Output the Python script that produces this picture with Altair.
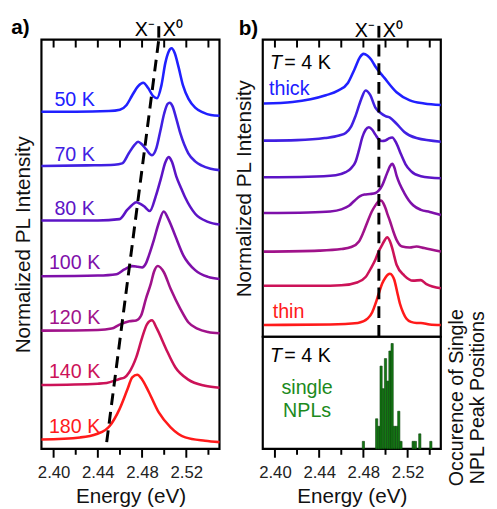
import altair as alt
import pandas as pd

FONT = "Liberation Sans"

# ---------------- panel a: temperature series (normalized PL) ----------------
a_labels = ["50 K", "70 K", "80 K", "100 K", "120 K", "140 K", "180 K"]
a_colors = ["#2020ff", "#4020e2", "#5c14c6", "#7e10aa", "#a0128a", "#cc1258", "#ff1a1a"]

a50_E = [2.389, 2.420, 2.450, 2.460, 2.466, 2.471, 2.4765, 2.481, 2.4855, 2.490, 2.4935, 2.4975,
         2.501, 2.504, 2.5067, 2.5095, 2.513, 2.517, 2.522, 2.528, 2.535, 2.5422, 2.550]
a50_I = [0.06, 0.06, 0.07, 0.09, 0.16, 0.30, 0.44, 0.49, 0.41, 0.29, 0.26, 0.45,
         0.78, 0.95, 1.0, 0.93, 0.72, 0.45, 0.25, 0.12, 0.05, 0.01, 0.0]
a70_E = [2.389, 2.430, 2.455, 2.462, 2.468, 2.473, 2.4764, 2.480, 2.4836, 2.489, 2.493, 2.4965,
         2.500, 2.503, 2.505, 2.5075, 2.511, 2.5147, 2.5218, 2.528, 2.5336, 2.542, 2.550]
a70_I = [0.06, 0.07, 0.08, 0.10, 0.25, 0.37, 0.42, 0.38, 0.31, 0.22, 0.33, 0.58,
         0.84, 0.98, 1.0, 0.95, 0.76, 0.54, 0.25, 0.13, 0.07, 0.02, 0.0]
a80_E = [2.389, 2.440, 2.4596, 2.4667, 2.471, 2.4747, 2.478, 2.4818, 2.487, 2.4924, 2.497, 2.501,
         2.504, 2.507, 2.511, 2.515, 2.519, 2.528, 2.5396, 2.550]
a80_I = [0.06, 0.06, 0.08, 0.22, 0.29, 0.33, 0.31, 0.27, 0.20, 0.42, 0.68, 0.92,
         1.0, 0.93, 0.71, 0.55, 0.40, 0.16, 0.04, 0.0]
a100_E = [2.389, 2.440, 2.4569, 2.464, 2.4711, 2.476, 2.480, 2.4835, 2.4862, 2.4907, 2.4951, 2.4996,
          2.504, 2.510, 2.5173, 2.528, 2.5396, 2.550]
a100_I = [0.04, 0.05, 0.07, 0.14, 0.19, 0.18, 0.17, 0.23, 0.35, 0.58, 0.83, 1.0,
          0.88, 0.64, 0.35, 0.13, 0.03, 0.0]
a120_E = [2.389, 2.440, 2.4524, 2.4596, 2.4684, 2.4747, 2.479, 2.4836, 2.488, 2.4907, 2.4942, 2.4996,
          2.5058, 2.5147, 2.522, 2.530, 2.5396, 2.550]
a120_I = [0.04, 0.05, 0.07, 0.13, 0.18, 0.19, 0.26, 0.52, 0.74, 0.91, 1.0, 0.91,
          0.66, 0.36, 0.16, 0.07, 0.02, 0.0]
a140_E = [2.389, 2.440, 2.448, 2.4596, 2.464, 2.4684, 2.4747, 2.480, 2.4844, 2.4889, 2.4933, 2.5013,
          2.5102, 2.5218, 2.5369, 2.550]
a140_I = [0.04, 0.06, 0.07, 0.13, 0.15, 0.23, 0.45, 0.74, 0.94, 1.0, 0.88, 0.59,
          0.30, 0.12, 0.03, 0.0]
a180_E = [2.389, 2.424, 2.439, 2.4507, 2.4596, 2.4667, 2.4711, 2.4756, 2.480, 2.4862, 2.4951, 2.5058,
          2.5191, 2.5369, 2.550]
a180_I = [0.04, 0.07, 0.12, 0.24, 0.49, 0.78, 0.96, 1.0, 0.93, 0.74, 0.44, 0.22,
          0.07, 0.02, 0.0]

a_E = [a50_E, a70_E, a80_E, a100_E, a120_E, a140_E, a180_E]
a_I = [a50_I, a70_I, a80_I, a100_I, a120_I, a140_I, a180_I]
a_step = 0.807
a_dash_E = [2.448, 2.4951]
a_dash_y = [0.0, 5.97]

# ---------------- panel b: thickness series at T = 4 K ----------------
b_labels = ["s1", "s2", "s3", "s4", "s5", "s6", "s7"]
b_colors = ["#2020ff", "#3e20e0", "#6216c2", "#8a10a2", "#ac107c", "#d0124c", "#ff1a1a"]

b1_E = [2.390, 2.416, 2.446, 2.457, 2.466, 2.472, 2.477, 2.480, 2.4835, 2.487, 2.491, 2.499,
        2.510, 2.522, 2.535, 2.550]
b1_I = [0.03, 0.06, 0.19, 0.28, 0.43, 0.70, 0.94, 1.0, 0.97, 0.89, 0.75, 0.53,
        0.25, 0.09, 0.03, 0.0]
b2_E = [2.390, 2.420, 2.445, 2.458, 2.464, 2.469, 2.473, 2.478, 2.482, 2.486, 2.491, 2.495,
        2.500, 2.504, 2.510, 2.517, 2.528, 2.550]
b2_I = [0.02, 0.03, 0.07, 0.12, 0.17, 0.30, 0.51, 0.83, 1.0, 0.92, 0.66, 0.57,
        0.50, 0.47, 0.35, 0.19, 0.07, 0.0]
b3_E = [2.390, 2.430, 2.455, 2.464, 2.469, 2.473, 2.476, 2.479, 2.482, 2.485, 2.488, 2.491,
        2.494, 2.497, 2.500, 2.503, 2.506, 2.510, 2.514, 2.518, 2.523, 2.532, 2.550]
b3_I = [0.02, 0.03, 0.06, 0.12, 0.20, 0.33, 0.55, 0.80, 0.95, 1.0, 0.95, 0.85,
        0.76, 0.73, 0.74, 0.78, 0.80, 0.68, 0.47, 0.28, 0.14, 0.04, 0.0]
b4_E = [2.390, 2.430, 2.450, 2.460, 2.467, 2.472, 2.477, 2.481, 2.486, 2.491, 2.494, 2.497,
        2.500, 2.502, 2.504, 2.506, 2.508, 2.510, 2.513, 2.517, 2.521, 2.525, 2.532, 2.540, 2.550]
b4_I = [0.04, 0.05, 0.07, 0.11, 0.18, 0.28, 0.37, 0.40, 0.41, 0.43, 0.48, 0.58,
        0.74, 0.85, 0.95, 1.0, 0.93, 0.77, 0.60, 0.43, 0.29, 0.19, 0.10, 0.06, 0.0]
b5_E = [2.390, 2.440, 2.460, 2.469, 2.476, 2.480, 2.484, 2.4875, 2.491, 2.4935, 2.496, 2.498,
        2.500, 2.502, 2.504, 2.507, 2.510, 2.515, 2.522, 2.528, 2.535, 2.550]
b5_I = [0.0, 0.02, 0.05, 0.09, 0.20, 0.38, 0.60, 0.78, 0.91, 0.98, 1.0, 0.95,
        0.85, 0.72, 0.60, 0.40, 0.23, 0.10, 0.08, 0.10, 0.07, 0.0]
b6_E = [2.390, 2.440, 2.460, 2.475, 2.482, 2.487, 2.491, 2.494, 2.497, 2.499, 2.5015, 2.504,
        2.506, 2.508, 2.510, 2.517, 2.525, 2.532, 2.537, 2.550]
b6_I = [0.05, 0.05, 0.06, 0.12, 0.22, 0.40, 0.57, 0.73, 0.85, 0.93, 1.0, 0.92,
        0.79, 0.62, 0.46, 0.25, 0.15, 0.16, 0.08, 0.0]
b7_E = [2.390, 2.450, 2.475, 2.484, 2.488, 2.491, 2.494, 2.497, 2.500, 2.502, 2.504, 2.506,
        2.508, 2.5105, 2.513, 2.516, 2.519, 2.523, 2.528, 2.532, 2.540, 2.550]
b7_I = [0.0, 0.01, 0.04, 0.13, 0.25, 0.42, 0.62, 0.81, 0.93, 0.98, 1.0, 0.97,
        0.88, 0.65, 0.42, 0.24, 0.12, 0.06, 0.04, 0.04, 0.01, 0.0]

b_E = [b1_E, b2_E, b3_E, b4_E, b5_E, b6_E, b7_E]
b_I = [b1_I, b2_I, b3_I, b4_I, b5_I, b6_I, b7_I]
b_step = 0.717
b_dash_E = 2.494

# ---------------- panel b (bottom): single NPL peak-position histogram ----------------
h_E0 = [2.479, 2.491, 2.493, 2.495, 2.497, 2.499, 2.501, 2.503, 2.505, 2.507, 2.509, 2.511,
        2.513, 2.524, 2.526, 2.530, 2.540]
h_count = [1, 4, 3, 11, 8, 12, 9, 13, 14, 3, 3, 5, 1, 1, 1, 2, 1]
h_width = 0.002

tick_vals = [2.40, 2.42, 2.44, 2.46, 2.48, 2.50, 2.52, 2.54]
major_vals = [v for v in tick_vals if round(v * 100) % 4 == 0]
minor_vals = [v for v in tick_vals if round(v * 100) % 4 != 0]

# ---------------- helpers ----------------
def stack(labels, Es, Is, step):
    rows = []
    n = len(labels)
    for k, (lab, E, I) in enumerate(zip(labels, Es, Is)):
        off = (n - 1 - k) * step
        for e, v in zip(E, I):
            rows.append({"E": e, "y": v + off, "series": lab})
    return pd.DataFrame(rows)


xdom = [2.389, 2.55]
xs = alt.Scale(domain=xdom, nice=False, zero=False)
dom_a = [-0.10, 5.97]
dom_b = [-0.23, 5.58]
dom_h = [0, 14.9]
ys_a = alt.Scale(domain=dom_a, nice=False, zero=False)
ys_b = alt.Scale(domain=dom_b, nice=False, zero=False)
ys_h = alt.Scale(domain=dom_h, nice=False, zero=False)

LBL = "round(datum.value*100) % 4 == 0 ? format(datum.value, '.2f') : ''"

bottom_axis = alt.Axis(
    values=tick_vals, labelExpr=LBL,
    ticks=False, domain=False, grid=False,
    labelFont=FONT, labelFontSize=17, labelColor="#222", labelPadding=16,
    labelOverlap=False, labelFlush=False,
    title="Energy (eV)", titleFont=FONT, titleFontSize=21, titleFontWeight="normal",
    titleColor="#111", titlePadding=6,
)
no_x_axis = alt.Axis(labels=False, ticks=False, domain=False, grid=False, title=None)


def yaxis(title):
    return alt.Axis(title=title, labels=False, ticks=False, domain=False, grid=False,
                    titleFont=FONT, titleFontSize=21, titleFontWeight="normal",
                    titleColor="#111", titlePadding=8)


def texts(df, ys, **kw):
    return alt.Chart(df).mark_text(font=FONT, **kw).encode(
        x=alt.X("E:Q", scale=xs, axis=None),
        y=alt.Y("y:Q", scale=ys, axis=None),
        text="t:N",
        color=alt.Color("c:N", scale=None),
    )


def tick_marks(vals, dom, ys, H, p0, p1):
    # axis tick marks at the tick values; tick length given in pixels from the top edge
    span = dom[1] - dom[0]
    y0 = dom[1] - p0 / H * span
    y1 = dom[1] - p1 / H * span
    df = pd.DataFrame({"E": vals, "y": [y0] * len(vals), "y2": [y1] * len(vals)})
    return alt.Chart(df).mark_rule(color="black", strokeWidth=2).encode(
        x=alt.X("E:Q", scale=xs, axis=None),
        y=alt.Y("y:Q", scale=ys, axis=None), y2="y2:Q")


# ---------------- panel a ----------------
HA = 416
df_a = stack(a_labels, a_E, a_I, a_step)
lines_a = alt.Chart(df_a).mark_line(strokeWidth=2.6, interpolate="monotone").encode(
    x=alt.X("E:Q", scale=xs, axis=bottom_axis),
    y=alt.Y("y:Q", scale=ys_a, axis=yaxis("Normalized PL Intensity")),
    color=alt.Color("series:N", scale=alt.Scale(domain=a_labels, range=a_colors), legend=None),
)
dash_a = alt.Chart(pd.DataFrame({"E": a_dash_E, "y": a_dash_y})).mark_line(
    color="black", strokeWidth=3, strokeDash=[12, 7]).encode(
    x=alt.X("E:Q", scale=xs, axis=None),
    y=alt.Y("y:Q", scale=ys_a, axis=None),
)
bar_a = alt.Chart(pd.DataFrame({"E": [a_dash_E[1]], "y": [6.0], "y2": [6.17]})).mark_rule(
    color="black", strokeWidth=3).encode(
    x=alt.X("E:Q", scale=xs, axis=None), y=alt.Y("y:Q", scale=ys_a, axis=None), y2="y2:Q")
n_a = len(a_labels)
lab_a = texts(pd.DataFrame({
    "E": [2.419] * n_a,
    "y": [(n_a - 1 - k) * a_step + 0.14 for k in range(n_a)],
    "t": a_labels, "c": a_colors}), ys_a, fontSize=20, align="center", baseline="alphabetic")
xm_a = texts(pd.DataFrame({"E": [a_dash_E[1]], "y": [6.02], "t": ["X\u207b"], "c": ["black"]}),
             ys_a, fontSize=20, align="right", baseline="alphabetic", dx=-4)
x0_a = texts(pd.DataFrame({"E": [a_dash_E[1]], "y": [6.02], "t": ["X\u2070"], "c": ["black"]}),
             ys_a, fontSize=20, align="left", baseline="alphabetic", dx=4)
tag_a = texts(pd.DataFrame({"E": [2.3618], "y": [6.05], "t": ["a)"], "c": ["black"]}),
              ys_a, fontSize=21, fontWeight="bold", align="left", baseline="alphabetic")

panel_a = alt.layer(
    lines_a, dash_a, bar_a, lab_a, xm_a, x0_a, tag_a,
    tick_marks(major_vals, dom_a, ys_a, HA, HA, HA + 9),
    tick_marks(minor_vals, dom_a, ys_a, HA, HA, HA + 6),
    tick_marks(tick_vals, dom_a, ys_a, HA, 0, 8),
).resolve_axis(x="independent", y="independent").properties(width=181, height=HA)

# ---------------- panel b (top) ----------------
HB = 302
df_b = stack(b_labels, b_E, b_I, b_step)
lines_b = alt.Chart(df_b).mark_line(strokeWidth=2.6, interpolate="monotone").encode(
    x=alt.X("E:Q", scale=xs, axis=no_x_axis),
    y=alt.Y("y:Q", scale=ys_b, axis=yaxis("Normalized PL Intensity")),
    color=alt.Color("series:N", scale=alt.Scale(domain=b_labels, range=b_colors), legend=None),
)
dash_b = alt.Chart(pd.DataFrame({"E": [b_dash_E, b_dash_E], "y": [-0.23, 5.58]})).mark_line(
    color="black", strokeWidth=3, strokeDash=[12, 7]).encode(
    x=alt.X("E:Q", scale=xs, axis=None),
    y=alt.Y("y:Q", scale=ys_b, axis=None),
)
bar_b = alt.Chart(pd.DataFrame({"E": [b_dash_E], "y": [5.62], "y2": [5.85]})).mark_rule(
    color="black", strokeWidth=3).encode(
    x=alt.X("E:Q", scale=xs, axis=None), y=alt.Y("y:Q", scale=ys_b, axis=None), y2="y2:Q")
xm_b = texts(pd.DataFrame({"E": [b_dash_E], "y": [5.64], "t": ["X\u207b"], "c": ["black"]}),
             ys_b, fontSize=20, align="right", baseline="alphabetic", dx=-4)
x0_b = texts(pd.DataFrame({"E": [b_dash_E], "y": [5.64], "t": ["X\u2070"], "c": ["black"]}),
             ys_b, fontSize=20, align="left", baseline="alphabetic", dx=4)
tag_b = texts(pd.DataFrame({"E": [2.3673], "y": [5.68], "t": ["b)"], "c": ["black"]}),
              ys_b, fontSize=21, fontWeight="bold", align="left", baseline="alphabetic")
T_b = texts(pd.DataFrame({"E": [2.3956], "y": [5.0], "t": ["T"], "c": ["black"]}),
            ys_b, fontSize=20, fontStyle="italic", align="left", baseline="alphabetic")
T2_b = texts(pd.DataFrame({"E": [2.4085], "y": [5.0], "t": ["= 4 K"], "c": ["black"]}),
             ys_b, fontSize=20, align="left", baseline="alphabetic")
thick_thin = texts(pd.DataFrame({"E": [2.3947, 2.398], "y": [4.50, 0.14],
                                 "t": ["thick", "thin"], "c": [b_colors[0], b_colors[-1]]}),
                   ys_b, fontSize=20, align="left", baseline="alphabetic")

panel_b = alt.layer(
    lines_b, dash_b, bar_b, xm_b, x0_b, tag_b, T_b, T2_b, thick_thin,
    tick_marks(tick_vals, dom_b, ys_b, HB, 0, 8),
).resolve_axis(x="independent", y="independent").properties(width=181, height=HB)

# ---------------- panel b (bottom): histogram ----------------
HH = 114
df_h = pd.DataFrame({"E0": h_E0, "n": h_count})
df_h["E1"] = df_h["E0"] + h_width
df_h["n0"] = 0
hist = alt.Chart(df_h).mark_bar(color="#137a13", stroke="#0b3d0b", strokeWidth=0.6).encode(
    x=alt.X("E0:Q", scale=xs, axis=bottom_axis),
    x2="E1:Q",
    y=alt.Y("n:Q", scale=ys_h, axis=None),
    y2="n0:Q",
)
T_h = texts(pd.DataFrame({"E": [2.3956], "y": [11.5], "t": ["T"], "c": ["black"]}),
            ys_h, fontSize=20, fontStyle="italic", align="left", baseline="alphabetic")
T2_h = texts(pd.DataFrame({"E": [2.4085], "y": [11.5], "t": ["= 4 K"], "c": ["black"]}),
             ys_h, fontSize=20, align="left", baseline="alphabetic")
npl = texts(pd.DataFrame({"E": [2.4291, 2.4291], "y": [7.3, 4.2], "t": ["single", "NPLs"],
                          "c": ["#1c8a1c", "#1c8a1c"]}),
            ys_h, fontSize=20, align="center", baseline="alphabetic")
rtitle = texts(pd.DataFrame({"E": [2.5645, 2.5835], "y": [6.8, 6.8],
                             "t": ["Occurence of Single", "NPL Peak Positions"],
                             "c": ["#111", "#111"]}),
               ys_h, fontSize=20, align="center", baseline="middle", angle=270)

panel_h = alt.layer(
    hist, T_h, T2_h, npl, rtitle,
    tick_marks(major_vals, dom_h, ys_h, HH, HH, HH + 9),
    tick_marks(minor_vals, dom_h, ys_h, HH, HH, HH + 6),
).resolve_axis(x="independent", y="independent").properties(width=181, height=HH)

right = alt.vconcat(panel_b, panel_h, spacing=0, bounds="flush")
chart = alt.hconcat(panel_a, right, spacing=44, bounds="flush").properties(
    padding={"left": 2, "top": 4, "right": 0, "bottom": 0}
).configure_view(stroke="black", strokeWidth=2.2)

chart.save("out.html", embed_options={"renderer": "svg", "actions": False})
